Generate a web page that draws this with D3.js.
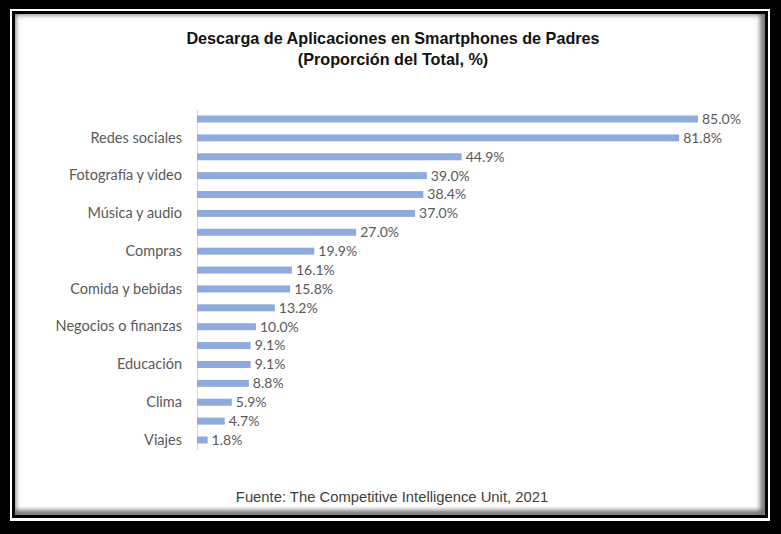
<!DOCTYPE html>
<html>
<head>
<meta charset="utf-8">
<script src="https://cdn.jsdelivr.net/npm/d3@7"></script>
<style>
  html, body { margin: 0; padding: 0; background: #000; }
  svg { display: block; }
</style>
</head>
<body>
<svg id="chart" width="781" height="534"></svg>
<script>
// ---- Data ----
const categories = [
  "Mensajería", "Redes sociales", "Entretenimiento", "Fotografía y video",
  "Juegos", "Música y audio", "Noticias", "Compras",
  "Productividad", "Comida y bebidas", "Salud y bienestar", "Negocios o finanzas",
  "Navegación", "Educación", "Estilo de vida", "Clima",
  "Deportes", "Viajes"
];
// Only every other category label is shown in the reference
const shownLabels = [
  "Redes sociales", "Fotografía y video", "Música y audio", "Compras",
  "Comida y bebidas", "Negocios o finanzas", "Educación", "Clima", "Viajes"
];
const values = [85.0, 81.8, 44.9, 39.0, 38.4, 37.0, 27.0, 19.9, 16.1, 15.8, 13.2, 10.0, 9.1, 9.1, 8.8, 5.9, 4.7, 1.8];
const titleLines = ["Descarga de Aplicaciones en Smartphones de Padres", "(Proporción del Total, %)"];
const sourceText = "Fuente: The Competitive Intelligence Unit, 2021";

// ---- Drawing ----
const W = 781, H = 534;
const svg = d3.select("#chart");
const defs = svg.append("defs");

// Frame
svg.append("rect").attr("x", 0).attr("y", 0).attr("width", W).attr("height", H).attr("fill", "#000");
svg.append("rect").attr("x", 10).attr("y", 9).attr("width", 760).attr("height", 512).attr("fill", "#fff");
svg.append("rect").attr("x", 12).attr("y", 11).attr("width", 756).attr("height", 507).attr("fill", "#000");
const inner = {x: 15, y: 14, w: 750, h: 501};
svg.append("rect").attr("x", inner.x).attr("y", inner.y).attr("width", inner.w).attr("height", inner.h).attr("fill", "#fff");

defs.append("clipPath").attr("id", "innerClip")
  .append("rect").attr("x", inner.x).attr("y", inner.y).attr("width", inner.w).attr("height", inner.h);
const blur = defs.append("filter").attr("id", "blur").attr("x", "-10%").attr("y", "-10%").attr("width", "120%").attr("height", "120%");
blur.append("feGaussianBlur").attr("stdDeviation", 2.5);
svg.append("g").attr("clip-path", "url(#innerClip)")
  .append("rect")
  .attr("x", inner.x - 3).attr("y", inner.y - 3)
  .attr("width", inner.w + 2).attr("height", inner.h + 2)
  .attr("fill", "none").attr("stroke", "#666").attr("stroke-width", 7)
  .attr("filter", "url(#blur)");

// Scales
const x0 = 197;
const x = d3.scaleLinear().domain([0, 85]).range([x0, 698]);
const step = (440 - 119) / (categories.length - 1);
const pi = 0.63;
const y = d3.scaleBand()
  .domain(categories)
  .range([119 - step / 2, 440 + step / 2])
  .paddingInner(pi)
  .paddingOuter(pi / 2);

// Axis (category axis, vertical line, no ticks)
const yAxis = d3.axisLeft(y)
  .tickSize(0)
  .tickPadding(15)
  .tickFormat(d => shownLabels.includes(d) ? d : "");
const gAxis = svg.append("g").attr("transform", `translate(${x0},0)`).call(yAxis);
gAxis.select(".domain").attr("stroke", "#d9d9d9").attr("stroke-width", 1);
gAxis.selectAll("text")
  .attr("fill", "#595959")
  .style("font-family", "Lato, 'Open Sans', sans-serif")
  .style("font-size", "14.5px");

// Bars
svg.append("g").selectAll("rect")
  .data(categories)
  .join("rect")
  .attr("x", x(0))
  .attr("y", d => y(d))
  .attr("width", (d, i) => x(values[i]) - x(0))
  .attr("height", y.bandwidth())
  .attr("fill", "#8faadc");

// Value labels
svg.append("g").selectAll("text")
  .data(categories)
  .join("text")
  .attr("x", (d, i) => x(values[i]) + 4)
  .attr("y", d => y(d) + y.bandwidth() / 2)
  .attr("dy", "0.35em")
  .attr("fill", "#595959")
  .style("font-family", "Lato, 'Open Sans', sans-serif")
  .style("font-size", "14px")
  .text((d, i) => values[i].toFixed(1) + "%");

// Title
svg.append("g").selectAll("text")
  .data(titleLines)
  .join("text")
  .attr("x", 393)
  .attr("y", (d, i) => 44 + i * 21)
  .attr("text-anchor", "middle")
  .attr("fill", "#111")
  .style("font-family", "'Liberation Sans', Arial, sans-serif")
  .style("font-weight", "bold")
  .style("font-size", "16.2px")
  .text(d => d);

// Source
svg.append("text")
  .attr("x", 392)
  .attr("y", 502)
  .attr("text-anchor", "middle")
  .attr("fill", "#404040")
  .style("font-family", "'Liberation Sans', Arial, sans-serif")
  .style("font-size", "14.8px")
  .text(sourceText);
</script>
</body>
</html>
